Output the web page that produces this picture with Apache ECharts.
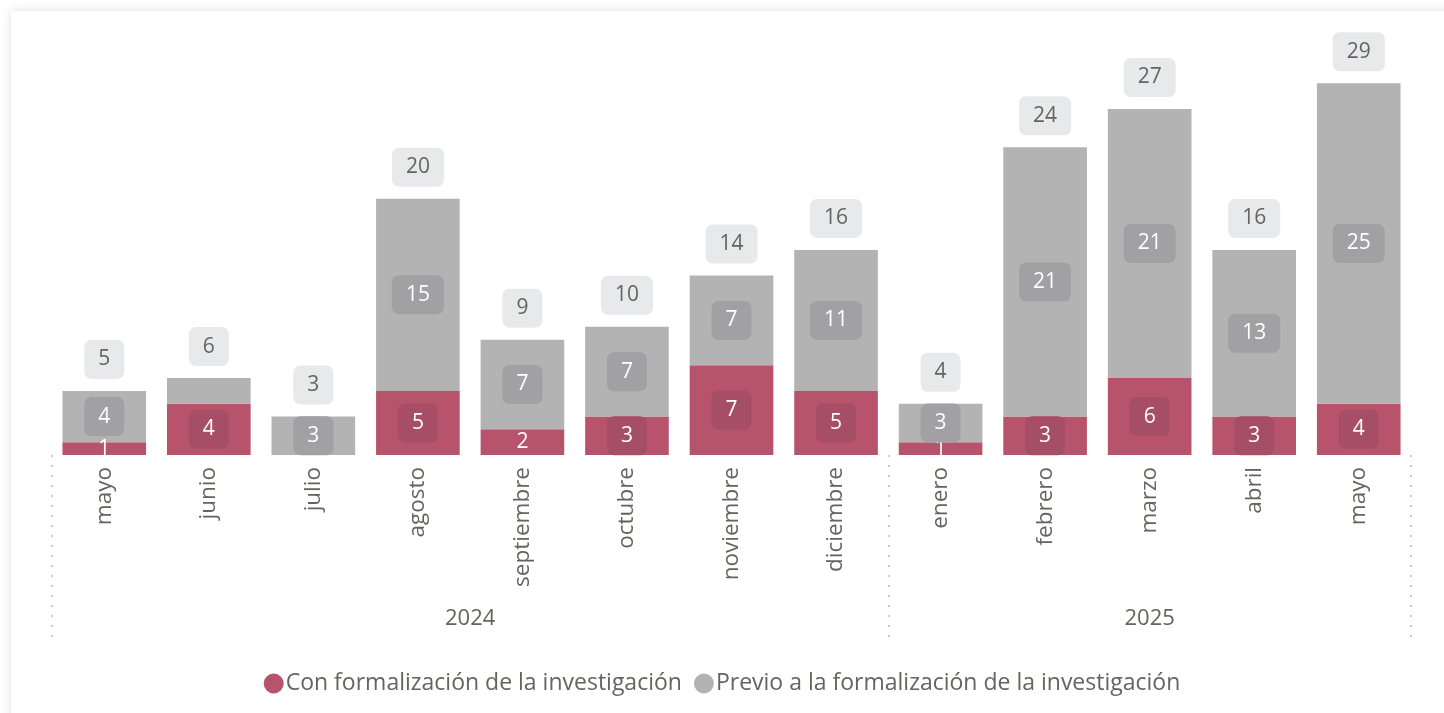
<!DOCTYPE html>
<html>
<head>
<meta charset="utf-8">
<script src="https://cdn.jsdelivr.net/npm/echarts@6/dist/echarts.min.js"></script>
<style>
  html, body { margin: 0; padding: 0; background: #fff; overflow: hidden; }
  .card {
    position: absolute; left: 11px; top: 11px; width: 1445px; height: 715px;
    background: #fff; box-shadow: 0 0 10px rgba(0, 0, 0, 0.12);
  }
  #chart { position: absolute; left: 0; top: 0; width: 1444px; height: 713px; }
</style>
</head>
<body>
<div class="card"></div>
<div id="chart"></div>
<script>
// meses (mayo 2024 - mayo 2025)
const months = ['mayo', 'junio', 'julio', 'agosto', 'septiembre', 'octubre', 'noviembre', 'diciembre',
  'enero', 'febrero', 'marzo', 'abril', 'mayo'];
const years = ['2024', '2025'];
const yearSizes = [8, 5]; // cantidad de meses de cada año

const conFormalizacion = [1, 4, 0, 5, 2, 3, 7, 5, 1, 3, 6, 3, 4];
const previoFormalizacion = [4, 2, 3, 15, 7, 7, 7, 11, 3, 21, 21, 13, 25];
const totals = conFormalizacion.map((v, i) => v + previoFormalizacion[i]);

const RED = '#B7546C';
const GRAY = '#B3B3B3';
const FONT = '"Segoe UI", "Open Sans", sans-serif';
const TEXT = '#66645F';

// eje de años: medio puntos, etiqueta en el centro de cada grupo
const halfSlots = [];
const yearLabelAt = {};
const yearSepAt = { 0: true };
let pos = 0;
years.forEach((y, k) => {
  yearLabelAt[pos + yearSizes[k]] = y;
  pos += yearSizes[k] * 2;
  yearSepAt[pos] = true;
});
for (let i = 0; i <= months.length * 2; i++) halfSlots.push(yearLabelAt[i] || '');

const insideLabel = (bg) => ({
  show: true,
  position: 'inside',
  color: '#fff',
  fontSize: 21,
  fontFamily: FONT,
  lineHeight: 25,
  padding: [7, 14],
  borderRadius: 7,
  backgroundColor: bg
});

const redData = conFormalizacion.map(v => ({
  value: v,
  label: v === 0 ? { show: false } : (v < 3 ? { backgroundColor: 'transparent' } : {})
}));
const grayData = previoFormalizacion.map(v => ({
  value: v,
  label: v < 3 ? { show: false } : {}
}));

const chart = echarts.init(document.getElementById('chart'));
chart.setOption({
  animation: false,
  grid: { left: 52, right: 33, top: 32, bottom: 258 },
  legend: {
    bottom: 13,
    left: 'center',
    icon: 'circle',
    itemWidth: 20,
    itemHeight: 20,
    itemGap: 12,
    textStyle: { fontSize: 23, fontFamily: FONT, color: TEXT, padding: [0, 0, 0, -3] },
    data: ['Con formalización de la investigación', 'Previo a la formalización de la investigación']
  },
  xAxis: [
    {
      type: 'category',
      data: months,
      axisLine: { show: false },
      axisTick: { show: false },
      axisLabel: {
        rotate: 90,
        margin: 12,
        fontSize: 22.5,
        fontFamily: FONT,
        color: TEXT,
        interval: 0
      }
    },
    {
      type: 'category',
      data: halfSlots,
      boundaryGap: false,
      position: 'bottom',
      axisLine: { show: false },
      axisTick: {
        show: true,
        length: 186,
        interval: (i) => !!yearSepAt[i],
        lineStyle: { color: '#C9C9D6', type: [2, 8], width: 2 }
      },
      axisLabel: {
        margin: 153,
        fontSize: 22,
        fontFamily: FONT,
        color: TEXT,
        interval: 0,
        formatter: (v) => v
      }
    }
  ],
  yAxis: {
    type: 'value',
    min: 0,
    max: 33,
    show: false,
    splitLine: { show: false }
  },
  series: [
    {
      name: 'Con formalización de la investigación',
      type: 'bar',
      stack: 'm',
      barWidth: '80%',
      itemStyle: { color: RED },
      label: insideLabel('#A64E65'),
      data: redData
    },
    {
      name: 'Previo a la formalización de la investigación',
      type: 'bar',
      stack: 'm',
      barWidth: '80%',
      itemStyle: { color: GRAY },
      label: insideLabel('#A1A1A3'),
      data: grayData
    },
    {
      name: 'total',
      type: 'bar',
      barWidth: '80%',
      barGap: '-100%',
      itemStyle: { color: 'transparent' },
      silent: true,
      z: 1,
      label: {
        show: true,
        position: 'top',
        distance: 12,
        color: TEXT,
        fontSize: 21,
        fontFamily: FONT,
        lineHeight: 25,
        padding: [7, 14],
        borderRadius: 7,
        backgroundColor: '#E8E9EB'
      },
      data: totals
    }
  ]
});
</script>
</body>
</html>
